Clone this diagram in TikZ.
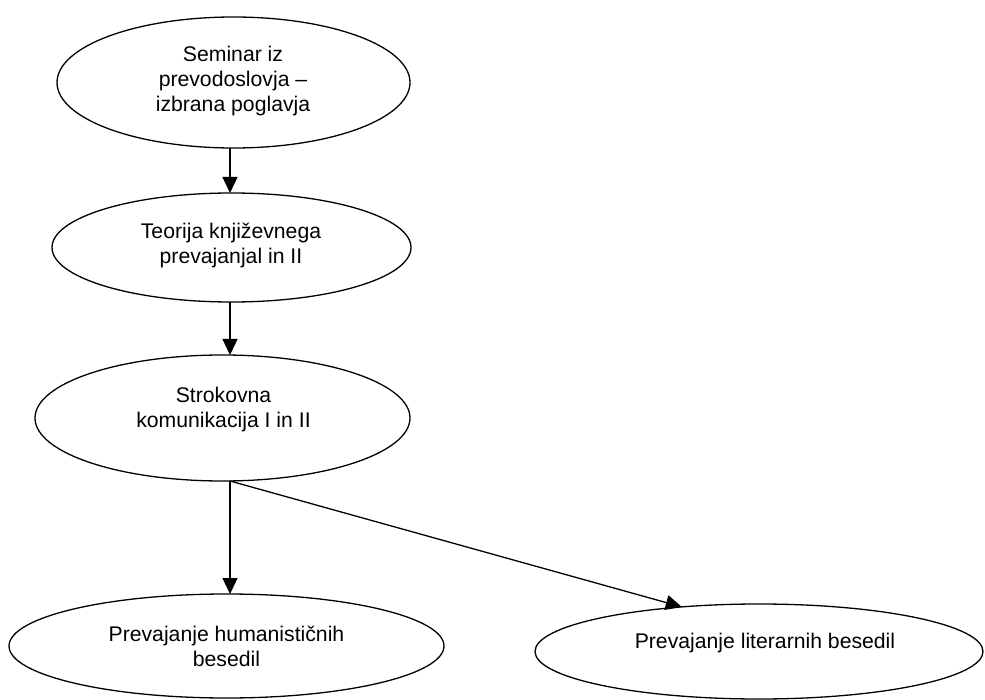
\documentclass[tikz,border=0pt]{standalone}
\usepackage{fontspec}
\setmainfont{Liberation Sans}
\usetikzlibrary{shapes.geometric,arrows.meta}

\tikzset{
  oval/.style={draw=black, line width=1.3pt, ellipse, inner sep=0pt, outer sep=0pt},
  caption/.style={align=center, inner sep=0pt, font=\fontsize{21.2}{25}\selectfont},
  link/.style={draw=black, line width=1.3pt, -{Triangle[length=16pt,width=15pt]}}
}

\begin{document}
\begin{tikzpicture}[x=1pt,y=-1pt]
  \useasboundingbox (0,0) rectangle (985,700);

  % course ovals (centre, then size)
  \node[oval, minimum width=353pt, minimum height=131pt] (e1) at (233.5,82.5) {};
  \node[oval, minimum width=359pt, minimum height=109pt] (e2) at (231.5,247.5) {};
  \node[oval, minimum width=375pt, minimum height=126pt] (e3) at (222.5,418) {};
  \node[oval, minimum width=435pt, minimum height=104pt] (e4) at (226.5,646) {};
  \node[oval, minimum width=448pt, minimum height=95pt]  (e5) at (759,651.5) {};

  % labels
  \node[caption] (t1) at (233,81)    {Seminar iz\\prevodoslovja –\\izbrana poglavja};
  \node[caption] (t2) at (231,245)   {Teorija književnega\\prevajanjal in II};
  \node[caption] (t3) at (223.5,409.5) {Strokovna\\komunikacija I in II};
  \node[caption] (t4) at (226.5,646.5) {Prevajanje humanističnih\\besedil};
  \node[caption] (t5) at (765,643)   {Prevajanje literarnih besedil};

  % common vertical for the straight connectors
  \coordinate (ax) at (230,0);

  \draw[link] (e1.south -| ax) -- (e2.north -| ax);
  \draw[link] (e2.south -| ax) -- (e3.north -| ax);
  \draw[link] (e3.south -| ax) -- (e4.north -| ax);
  \draw[link] (e3.south -| ax) -- (e5.150);
\end{tikzpicture}
\end{document}
